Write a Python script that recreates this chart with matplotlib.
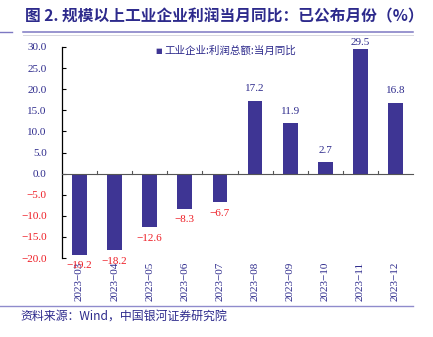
import matplotlib
matplotlib.use("Agg")
import matplotlib.pyplot as plt
from matplotlib.lines import Line2D
import numpy as np

categories = ["2023-03", "2023-04", "2023-05", "2023-06", "2023-07",
              "2023-08", "2023-09", "2023-10", "2023-11", "2023-12"]
values = [-19.2, -18.2, -12.6, -8.3, -6.7, 17.2, 11.9, 2.7, 29.5, 16.8]
yticks = [30, 25, 20, 15, 10, 5, 0, -5, -10, -15, -20]
title = "图 2. 规模以上工业企业利润当月同比：已公布月份（%）"
legend_label = "工业企业:利润总额:当月同比"
source = "资料来源：Wind，中国银河证券研究院"

BAR = "#3e3594"
BLUE = "#2d2a8c"
RED = "#ee1c24"
SERIF = ["Liberation Serif", "Noto Sans CJK SC"]
CJK = ["Noto Sans CJK SC", "DejaVu Sans"]
MINUS = "\u2212"


def fmt(v):
    s = f"{v:.1f}"
    return s.replace("-", MINUS)


fig = plt.figure(figsize=(4.33, 3.37), dpi=100)
ax = fig.add_axes([62/433, 1-258/337, (413-62)/433, (258-47)/337])

x = np.arange(len(categories))
ax.bar(x, values, width=0.42, color=BAR, zorder=2)
ax.set_xlim(-0.5, len(categories)-0.5)
ax.set_ylim(-20, 30)

for s in ["top", "right"]:
    ax.spines[s].set_visible(False)
ax.spines["bottom"].set_position(("data", 0))
ax.spines["bottom"].set_color("#555555")
ax.spines["bottom"].set_linewidth(0.8)
ax.spines["left"].set_linewidth(0.9)

ax.set_yticks(yticks)
ax.set_yticklabels([fmt(v) for v in yticks], family=SERIF, fontsize=8)
for lbl, v in zip(ax.get_yticklabels(), yticks):
    lbl.set_color(RED if v < 0 else BLUE)
ax.tick_params(axis="y", direction="in", length=3, pad=11)

# x ticks at category boundaries on the zero line
ax.set_xticks([])
for b in np.arange(0.5, len(categories)-0.5, 1.0):
    ax.plot([b, b], [0, 0.5], color="#555555", lw=0.8, zorder=3)

# category labels under plot
for xi, c in zip(x, categories):
    ax.text(xi, -20.9, c.replace("-", MINUS), rotation=90, ha="center", va="top",
            family=SERIF, fontsize=8, color=BLUE, clip_on=False)

ymax = ax.get_ylim()[1]
for xi, v in zip(x, values):
    if v >= 0:
        ax.text(xi, min(v + 1.8, ymax - 0.1), fmt(v), ha="center", va="bottom",
                family=SERIF, fontsize=8, color=BLUE, clip_on=False)
    else:
        ax.text(xi, v - 1.6, fmt(v), ha="center", va="top",
                family=SERIF, fontsize=8, color=RED)

# legend
fig.text(155/433, 1-51/337, "■", color=BAR, fontsize=5, family="DejaVu Sans",
         ha="left", va="center")
fig.text(164/433, 1-51/337, legend_label, color=BLUE, fontsize=7.6, family=CJK,
         ha="left", va="center")

# title
fig.text(25/433, 1-16/337, title, color=BLUE, fontsize=11.3, family=CJK,
         weight="bold", ha="left", va="center")
fig.add_artist(Line2D([23/433, 413/433], [1-32.3/337, 1-32.3/337], color="#7d78c2", lw=1.1))
fig.add_artist(Line2D([23/433, 413/433], [1-34.5/337, 1-34.5/337], color="#d8d8e0", lw=0.7))
fig.add_artist(Line2D([0, 12/433], [1-32.3/337, 1-32.3/337], color="#7d78c2", lw=1.0))

fig.add_artist(Line2D([0, 413/433], [1-305.5/337, 1-305.5/337], color="#8f8bcc", lw=1.0))
fig.text(20/433, 1-316/337, source, color=BLUE, fontsize=8.6, family=CJK,
         style="italic", ha="left", va="center")

fig.savefig("out.png", dpi=100)
